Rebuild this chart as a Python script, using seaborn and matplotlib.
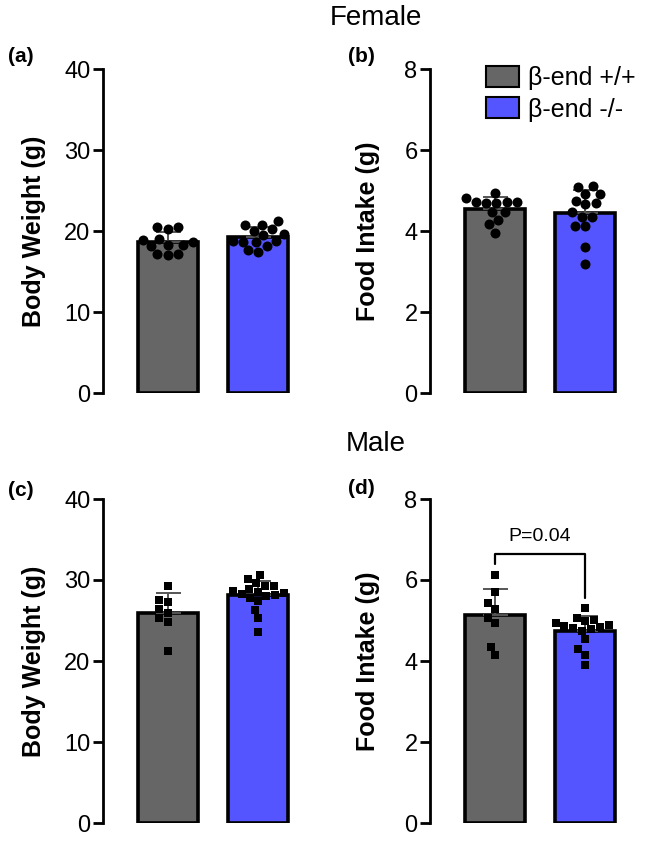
import numpy as np
import pandas as pd
import matplotlib
matplotlib.use("Agg")
import matplotlib.pyplot as plt
from matplotlib.patches import Patch
import seaborn as sns

sns.set_style("white")
plt.rcParams['font.family'] = ['Liberation Sans', 'DejaVu Sans']
plt.rcParams['text.color'] = 'black'
plt.rcParams['axes.labelcolor'] = 'black'
plt.rcParams['ytick.color'] = 'black'

groups = ["β-end +/+", "β-end -/-"]
colors = ["#666666", "#5555ff"]

female_bw_wt = [20.5, 20.5, 20.3, 19.0, 18.9, 18.6, 18.3, 18.3, 18.1, 17.1, 17.0, 17.2]
female_bw_ko = [21.2, 20.8, 20.7, 20.2, 20.0, 19.6, 19.5, 18.8, 18.7, 18.8, 18.6, 18.1, 17.6, 17.4]
female_fi_wt = [4.72, 4.82, 4.69, 4.69, 4.95, 4.72, 4.72, 4.47, 4.47, 4.28, 4.17, 3.96]
female_fi_ko = [4.92, 5.09, 5.10, 4.92, 4.66, 4.69, 4.74, 4.47, 4.35, 4.35, 4.12, 4.12, 3.61, 3.18]
male_bw_wt = [29.3, 27.5, 27.3, 25.9, 26.4, 25.3, 24.8, 21.2]
male_bw_ko = [30.6, 30.1, 29.6, 29.3, 29.2, 28.9, 28.7, 28.5, 28.4, 28.3, 28.2, 28.0, 27.8, 27.4, 26.3, 25.3, 23.6]
male_fi_wt = [6.13, 5.70, 5.43, 5.28, 5.07, 4.93, 4.35, 4.15]
male_fi_ko = [5.30, 5.05, 5.02, 4.98, 4.94, 4.90, 4.87, 4.84, 4.81, 4.78, 4.74, 4.54, 4.29, 4.15, 3.90]

panels = [
    ("(a)", "Body Weight (g)", female_bw_wt, female_bw_ko, 40, [0, 10, 20, 30, 40], "o", -0.26),
    ("(b)", "Food Intake (g)", female_fi_wt, female_fi_ko, 8, [0, 2, 4, 6, 8], "o", -0.225),
    ("(c)", "Body Weight (g)", male_bw_wt, male_bw_ko, 40, [0, 10, 20, 30, 40], "s", -0.26),
    ("(d)", "Food Intake (g)", male_fi_wt, male_fi_ko, 8, [0, 2, 4, 6, 8], "s", -0.225),
]

W, H = 661, 846
fig = plt.figure(figsize=(W / 100, H / 100), dpi=100)

ax_px = [(103, 69), (430, 69), (103, 499), (430, 499)]
ax_w, ax_h = 220, 324

axes = []
for (label, ylab, wt, ko, ymax, ticks, marker, lblx), (lx, ty) in zip(panels, ax_px):
    ax = fig.add_axes([lx / W, 1 - (ty + ax_h) / H, ax_w / W, ax_h / H])
    axes.append(ax)
    df = pd.DataFrame({
        "group": [groups[0]] * len(wt) + [groups[1]] * len(ko),
        "value": wt + ko,
    })
    sns.barplot(data=df, x="group", y="value", hue="group", order=groups,
                hue_order=groups, palette=colors, saturation=1, errorbar=None,
                width=0.66, edgecolor="black", linewidth=2.6, legend=False,
                ax=ax, zorder=1)
    means = df.groupby("group")["value"].mean().reindex(groups).values
    sds = df.groupby("group")["value"].std().reindex(groups).values
    ax.errorbar([0, 1], means, yerr=[np.zeros(2), sds], fmt="none",
                ecolor="#555555", elinewidth=1.4, capsize=9, capthick=1.4, zorder=2)
    sns.swarmplot(data=df, x="group", y="value", order=groups, color="black",
                  marker=marker, size=7.2 if marker == "o" else 6.3, linewidth=0,
                  ax=ax, zorder=3)
    ax.set_xlim(-0.71, 1.71)
    ax.set_ylim(0, ymax)
    ax.set_yticks(ticks)
    ax.set_yticklabels([str(t) for t in ticks], fontsize=17)
    ax.set_xticks([])
    ax.set_xlabel("")
    ax.set_ylabel(ylab, fontsize=18, fontweight="bold")
    ax.yaxis.set_label_coords(lblx, 0.5)
    for s in ["top", "right", "bottom"]:
        ax.spines[s].set_visible(False)
    ax.spines["left"].set_linewidth(2)
    ax.spines["left"].set_color("black")
    ax.tick_params(axis="y", direction="out", length=7, width=2, color="black",
                   pad=2, left=True)
    ax.patch.set_alpha(0)

# panel labels
for (label, *_), (px, py) in zip(panels, [(8, 57), (348, 57), (8, 490), (348, 488)]):
    fig.text(px / W, 1 - py / H, label, fontsize=15, fontweight="bold",
             ha="left", va="center")

fig.text(376 / W, 1 - 18 / H, "Female", fontsize=20, ha="center", va="center")
fig.text(376 / W, 1 - 444 / H, "Male", fontsize=20, ha="center", va="center")

# significance bracket in (d)
axd = axes[3]
bracket_y = 6.65
axd.plot([0, 0, 1, 1], [6.4, bracket_y, bracket_y, 5.55], color="black",
         linewidth=1.6, zorder=4, clip_on=False)
axd.text(0.5, 7.08, "P=0.04", ha="center", va="center", fontsize=14)

handles = [Patch(facecolor=c, edgecolor="black", linewidth=1.5) for c in colors]
fig.legend(handles, groups, loc="upper left",
           bbox_to_anchor=(486 / W, 1 - 66 / H), frameon=False, fontsize=18,
           handlelength=1.3, handleheight=0.9, handletextpad=0.4,
           labelspacing=0.3, borderpad=0, borderaxespad=0)

fig.savefig("out.png", dpi=100, facecolor="white")
